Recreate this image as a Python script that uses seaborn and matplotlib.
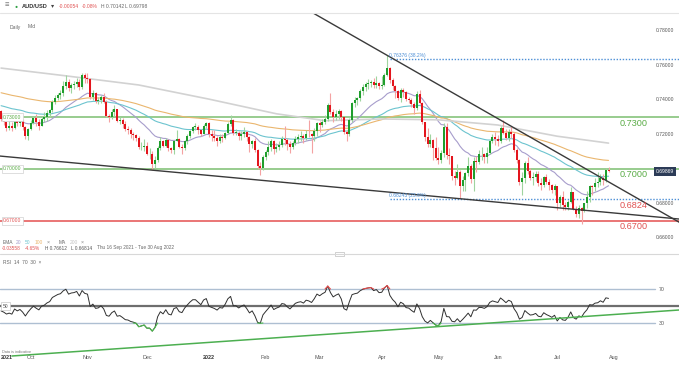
import numpy as np
import pandas as pd
import matplotlib
matplotlib.use("Agg")
import matplotlib.pyplot as plt
import matplotlib.transforms as mtrans
from matplotlib.lines import Line2D
from matplotlib.patches import Rectangle
import seaborn as sns

W, H = 679, 366

# daily AUD/USD bars (weekdays) Thu 16 Sep 2021 .. Thu 28 Jul 2022
first_day, last_day = "2021-09-16", "2022-07-28"
first_open = 0.7335
closes = [
    0.7290, 0.7270, 0.7240, 0.7250, 0.7235, 0.7290, 0.7265, 0.7280, 0.7245, 0.7190, 0.7230,
    0.7265, 0.7295, 0.7270, 0.7250, 0.7290, 0.7300, 0.7325, 0.7340, 0.7390, 0.7410, 0.7430,
    0.7440, 0.7480, 0.7505, 0.7470, 0.7485, 0.7490, 0.7505, 0.7475, 0.7545, 0.7525,
    0.7520, 0.7415, 0.7440, 0.7395, 0.7400, 0.7420, 0.7390, 0.7310, 0.7300, 0.7330, 0.7345,
    0.7280, 0.7285, 0.7260, 0.7230, 0.7225, 0.7205, 0.7195, 0.7180, 0.7125, 0.7130, 0.7135,
    0.7085, 0.7085, 0.7030, 0.7050, 0.7120, 0.7160, 0.7135, 0.7170, 0.7120, 0.7110, 0.7165,
    0.7175, 0.7130, 0.7120, 0.7160, 0.7190, 0.7220, 0.7245, 0.7245, 0.7225, 0.7205, 0.7250, 0.7265,
    0.7200, 0.7190, 0.7180, 0.7165, 0.7185, 0.7180, 0.7210, 0.7260, 0.7285, 0.7210, 0.7210,
    0.7190, 0.7205, 0.7215, 0.7185, 0.7145, 0.7160, 0.7110, 0.7020, 0.7005, 0.7070,
    0.7100, 0.7130, 0.7165, 0.7115, 0.7130, 0.7140, 0.7175, 0.7170, 0.7145, 0.7125,
    0.7150, 0.7175, 0.7185, 0.7190, 0.7180, 0.7205, 0.7200, 0.7190, 0.7220, 0.7265,
    0.7255, 0.7275, 0.7290, 0.7370, 0.7330, 0.7300, 0.7320, 0.7335, 0.7300, 0.7215, 0.7200,
    0.7285, 0.7385, 0.7400, 0.7410, 0.7450, 0.7475, 0.7490, 0.7500, 0.7505, 0.7485, 0.7500, 0.7480,
    0.7485, 0.7545, 0.7585, 0.7515, 0.7480, 0.7455, 0.7410, 0.7460, 0.7445, 0.7405, 0.7400,
    0.7375, 0.7355, 0.7435, 0.7385, 0.7270, 0.7185, 0.7145, 0.7170, 0.7120, 0.7065,
    0.7050, 0.7090, 0.7245, 0.7080, 0.7075, 0.6960, 0.6945, 0.6985, 0.6900, 0.6935, 0.6975,
    0.7020, 0.6940, 0.7045, 0.7040, 0.7085, 0.7085, 0.7070, 0.7095, 0.7160, 0.7185, 0.7175,
    0.7165, 0.7235, 0.7210, 0.7180, 0.7215, 0.7200, 0.7110, 0.7050, 0.6925, 0.6945, 0.7035,
    0.6990, 0.6950, 0.6955, 0.6970, 0.6920, 0.6910, 0.6955, 0.6925, 0.6905, 0.6880, 0.6900,
    0.6800, 0.6835, 0.6790, 0.6780, 0.6810, 0.6865, 0.6770, 0.6740, 0.6775, 0.6755,
    0.6800, 0.6835, 0.6900, 0.6895, 0.6920, 0.6925, 0.6950, 0.6935, 0.6992, 0.6987,
]
highs = [
    0.7340, 0.7300, 0.7275, 0.7285, 0.7270, 0.7310, 0.7315, 0.7300, 0.7290, 0.7250, 0.7240,
    0.7285, 0.7310, 0.7320, 0.7290, 0.7310, 0.7330, 0.7340, 0.7350, 0.7400, 0.7430, 0.7440,
    0.7460, 0.7510, 0.7545, 0.7520, 0.7500, 0.7510, 0.7530, 0.7520, 0.7555, 0.7555,
    0.7555, 0.7530, 0.7460, 0.7445, 0.7420, 0.7430, 0.7440, 0.7400, 0.7320, 0.7345, 0.7370,
    0.7340, 0.7300, 0.7295, 0.7280, 0.7250, 0.7235, 0.7215, 0.7200, 0.7190, 0.7155, 0.7175,
    0.7155, 0.7120, 0.7105, 0.7075, 0.7135, 0.7185, 0.7170, 0.7180, 0.7175, 0.7130, 0.7170,
    0.7225, 0.7180, 0.7145, 0.7170, 0.7200, 0.7225, 0.7250, 0.7265, 0.7255, 0.7230, 0.7260, 0.7275,
    0.7275, 0.7225, 0.7225, 0.7190, 0.7200, 0.7200, 0.7215, 0.7275, 0.7315, 0.7290, 0.7230,
    0.7220, 0.7220, 0.7245, 0.7220, 0.7190, 0.7170, 0.7180, 0.7115, 0.7040, 0.7080,
    0.7110, 0.7160, 0.7175, 0.7170, 0.7150, 0.7160, 0.7190, 0.7250, 0.7180, 0.7160,
    0.7160, 0.7190, 0.7200, 0.7220, 0.7200, 0.7225, 0.7285, 0.7210, 0.7235, 0.7275,
    0.7280, 0.7290, 0.7315, 0.7380, 0.7440, 0.7345, 0.7340, 0.7345, 0.7340, 0.7300, 0.7225,
    0.7295, 0.7390, 0.7420, 0.7420, 0.7465, 0.7490, 0.7505, 0.7520, 0.7515, 0.7530, 0.7540, 0.7505,
    0.7540, 0.7555, 0.7661, 0.7590, 0.7525, 0.7485, 0.7460, 0.7470, 0.7470, 0.7455, 0.7420,
    0.7410, 0.7390, 0.7455, 0.7460, 0.7390, 0.7275, 0.7240, 0.7200, 0.7175, 0.7185,
    0.7125, 0.7110, 0.7265, 0.7265, 0.7120, 0.7070, 0.6990, 0.7030, 0.6995, 0.6960, 0.6985,
    0.7070, 0.7030, 0.7070, 0.7075, 0.7110, 0.7125, 0.7095, 0.7130, 0.7170, 0.7200, 0.7215,
    0.7195, 0.7250, 0.7285, 0.7230, 0.7230, 0.7250, 0.7215, 0.7120, 0.7060, 0.6985, 0.7045,
    0.7070, 0.7005, 0.6980, 0.6990, 0.6990, 0.6945, 0.6960, 0.6970, 0.6940, 0.6915, 0.6915,
    0.6900, 0.6850, 0.6875, 0.6810, 0.6820, 0.6895, 0.6860, 0.6785, 0.6790, 0.6780,
    0.6805, 0.6870, 0.6910, 0.6910, 0.6945, 0.6985, 0.6970, 0.6970, 0.7005, 0.7014,
]
lows = [
    0.7280, 0.7255, 0.7220, 0.7225, 0.7220, 0.7230, 0.7250, 0.7250, 0.7225, 0.7175, 0.7170,
    0.7225, 0.7260, 0.7250, 0.7225, 0.7250, 0.7270, 0.7280, 0.7300, 0.7330, 0.7375, 0.7400,
    0.7405, 0.7425, 0.7465, 0.7450, 0.7440, 0.7465, 0.7475, 0.7460, 0.7465, 0.7500,
    0.7500, 0.7405, 0.7400, 0.7380, 0.7375, 0.7385, 0.7380, 0.7300, 0.7275, 0.7290, 0.7310,
    0.7270, 0.7260, 0.7240, 0.7220, 0.7200, 0.7180, 0.7170, 0.7165, 0.7115, 0.7110, 0.7105,
    0.7080, 0.7060, 0.6995, 0.7005, 0.7040, 0.7110, 0.7125, 0.7125, 0.7105, 0.7090, 0.7085,
    0.7160, 0.7120, 0.7085, 0.7110, 0.7145, 0.7180, 0.7210, 0.7225, 0.7200, 0.7190, 0.7200, 0.7240,
    0.7185, 0.7165, 0.7160, 0.7135, 0.7150, 0.7155, 0.7175, 0.7200, 0.7250, 0.7195, 0.7195,
    0.7170, 0.7170, 0.7185, 0.7165, 0.7100, 0.7120, 0.7100, 0.7000, 0.6965, 0.6995,
    0.7050, 0.7080, 0.7105, 0.7085, 0.7100, 0.7110, 0.7130, 0.7140, 0.7110, 0.7090,
    0.7115, 0.7140, 0.7150, 0.7160, 0.7150, 0.7170, 0.7185, 0.7095, 0.7160, 0.7190,
    0.7215, 0.7245, 0.7260, 0.7280, 0.7320, 0.7275, 0.7285, 0.7290, 0.7280, 0.7200, 0.7165,
    0.7190, 0.7270, 0.7360, 0.7370, 0.7395, 0.7430, 0.7450, 0.7465, 0.7475, 0.7470, 0.7470, 0.7465,
    0.7465, 0.7480, 0.7540, 0.7500, 0.7460, 0.7410, 0.7400, 0.7390, 0.7420, 0.7395, 0.7385,
    0.7360, 0.7320, 0.7340, 0.7375, 0.7260, 0.7165, 0.7130, 0.7130, 0.7055, 0.7050,
    0.7030, 0.7035, 0.7070, 0.7060, 0.7030, 0.6935, 0.6905, 0.6940, 0.6830, 0.6870, 0.6870,
    0.6960, 0.6920, 0.6870, 0.6985, 0.7030, 0.7050, 0.7035, 0.7035, 0.7085, 0.7150, 0.7140,
    0.7135, 0.7150, 0.7200, 0.7170, 0.7160, 0.7180, 0.7100, 0.7035, 0.6910, 0.6850, 0.6920,
    0.6970, 0.6935, 0.6910, 0.6930, 0.6900, 0.6880, 0.6895, 0.6915, 0.6880, 0.6860, 0.6850,
    0.6765, 0.6780, 0.6760, 0.6760, 0.6760, 0.6800, 0.6760, 0.6720, 0.6715, 0.6681,
    0.6750, 0.6775, 0.6810, 0.6850, 0.6870, 0.6895, 0.6905, 0.6905, 0.6925, 0.6980,
]

# moving averages (EMA seeded with the values at the left edge, MA200)
ema_periods = [20, 50, 100]
ema_seeds = [0.7290, 0.7370, 0.7445]
ema_colors = ["#a79dcc", "#6cc4cf", "#eab66e"]
ma200_dates = ["2021-09-16", "2021-10-20", "2021-11-26", "2022-01-03", "2022-02-07", "2022-03-03",
               "2022-04-01", "2022-05-02", "2022-06-01", "2022-07-01", "2022-07-28"]
ma200_values = [0.7585, 0.7540, 0.7487, 0.7405, 0.7320, 0.7280, 0.7290, 0.7285, 0.7255, 0.7190, 0.7150]

levels = [0.7300, 0.7000, 0.6824, 0.6700]
level_labels = ["0.7300", "0.7000", "0.6824", "0.6700"]
level_colors = ["#5aac46", "#5aac46", "#e05252", "#e05252"]
box_levels = [0.73, 0.70, 0.67]
box_labels = ["0.73000", "0.70000", "0.67000"]
fib_levels = [0.76376, 0.68243]
fib_labels = ["0.76376 (38.2%)", "0.68243 (23.6%)"]
fib_start = "2022-04-06"
price_ticks = [0.78, 0.76, 0.74, 0.72, 0.68, 0.66]
last_price = 0.69869

upper_trend = ([110, 252], [0.7954, 0.6684])
lower_trend = ([-0.4, 251.1], [0.7075, 0.6710])
rsi_trend = ([4, 251.1], [-8.8, 45.3])
rsi_seed = (0.0021, 0.0023)

month_dates = ["2021-09-20", "2021-10-01", "2021-11-01", "2021-12-01", "2022-01-03", "2022-02-01",
               "2022-03-01", "2022-04-01", "2022-05-02", "2022-06-01", "2022-07-01", "2022-08-01"]
month_labels = ["2021", "Oct", "Nov", "Dec", "2022", "Feb", "Mar", "Apr", "May", "Jun", "Jul", "Aug"]


def bar_of(d):
    return len(pd.bdate_range(first_day, d)) - 1


def fx(px):
    return px / W


def fy(py):
    return 1 - py / H


sns.set_theme(style="white")
plt.rcParams["font.family"] = ["Liberation Sans", "DejaVu Sans"]

n = len(closes)
idx = np.arange(n)
c = np.array(closes)
o = np.r_[first_open, c[:-1]]
hi = np.maximum(np.array(highs), np.maximum(o, c))
lo = np.minimum(np.array(lows), np.minimum(o, c))
up = c >= o

fig = plt.figure(figsize=(W / 100, H / 100), dpi=100)
fig.patch.set_facecolor("white")

ax = fig.add_axes([0, fy(252), 1, (252 - 13) / H])
ax.set_xlim(-0.4, 251.1)
ax.set_ylim(0.65188, 0.79043)
ax.axis("off")

# levels
ax.axhline(0.73, color="#7cbf70", lw=1.1, zorder=1)
ax.axhline(0.70, color="#7cbf70", lw=1.1, zorder=1)
ax.axhline(0.67, color="#e44f4f", lw=1.1, zorder=1)
x_fib = bar_of(fib_start)
for lv in fib_levels:
    ax.plot([x_fib, 251.1], [lv, lv], color="#4d8fd6", lw=1.0, ls=(0, (1, 1.2)), zorder=1)

# moving averages
for p, seed, col in zip(ema_periods, ema_seeds, ema_colors):
    ema = pd.Series(np.r_[seed, c]).ewm(span=p, adjust=False).mean().values[1:]
    sns.lineplot(x=idx, y=ema, ax=ax, color=col, lw=0.8, legend=False, zorder=2)
sns.lineplot(x=[bar_of(d) for d in ma200_dates], y=ma200_values, ax=ax, color="#d2d2d2",
             lw=1.2, legend=False, zorder=2)

# candles
green, red = "#1f9e2c", "#e3151d"
ax.vlines(idx[up], lo[up], hi[up], color="#9fd49f", lw=0.8, zorder=3)
ax.vlines(idx[~up], lo[~up], hi[~up], color="#f4a2a2", lw=0.8, zorder=3)
body = c - o
body = np.where(np.abs(body) < 0.0004, np.where(up, 0.0004, -0.0004), body)
ax.bar(idx, body, bottom=o, width=0.75, color=np.where(up, green, red), lw=0, zorder=4)

# trendlines
ax.plot(*upper_trend, color="#3a3a3a", lw=1.0, zorder=5)
ax.plot(*lower_trend, color="#3a3a3a", lw=1.0, zorder=5)

ytr = ax.get_yaxis_transform()
for lv, lab, col in zip(levels, level_labels, level_colors):
    tr = mtrans.offset_copy(ytr, fig=fig, y=-1.5, units="dots")
    ax.text(fx(620), lv, lab, transform=tr, ha="left", va="top", fontsize=6.6, color=col, zorder=6)
for lv, lab, col in zip(box_levels, box_labels, ["#5aac46", "#5aac46", "#e05252"]):
    ax.text(fx(3), lv, lab, transform=ytr, ha="left", va="center", fontsize=3.6, color=col,
            bbox=dict(boxstyle="square,pad=0.3", fc="white", ec="#d0d0d0", lw=0.5), zorder=6)
for lv, lab in zip(fib_levels, fib_labels):
    ax.text(x_fib - 0.5, lv + 0.0007, lab, ha="left", va="bottom", fontsize=3.6,
            color="#4d8fd6", zorder=6)
for t in price_ticks:
    ax.text(fx(656), t, f"{t:.5f}", transform=ytr, ha="left", va="center", fontsize=3.6,
            color="#555555", zorder=6)
ax.text(fx(656), last_price, f"{last_price:.5f}", transform=ytr, ha="left", va="center",
        fontsize=3.6, color="white", zorder=7,
        bbox=dict(boxstyle="square,pad=0.35", fc="#2c3b57", ec="none"))

# RSI panel
rax = fig.add_axes([0, fy(352), 1, (352 - 255) / H])
rax.set_xlim(-0.4, 251.1)
rax.set_ylim(-4.1, 110)
for s in rax.spines.values():
    s.set_visible(False)
rax.set_yticks([])

delta = np.diff(np.r_[first_open, c])
ag, al = rsi_seed
rsi = []
for d in delta:
    ag = (ag * 13 + max(d, 0)) / 14
    al = (al * 13 + max(-d, 0)) / 14
    rsi.append(100 - 100 / (1 + ag / al))
rsi = np.array(rsi)

rax.axhline(70, xmax=fx(655), color="#aebfd2", lw=1.0, zorder=1)
rax.axhline(30, xmax=fx(655), color="#aebfd2", lw=1.0, zorder=1)
rax.axhline(50, color="#6e6e6e", lw=1.6, zorder=1)
sns.lineplot(x=idx, y=rsi, ax=rax, color="#2f2f2f", lw=0.7, legend=False, zorder=3)
hi_m = rsi > 70
hi_m = hi_m | np.roll(hi_m, 1) | np.roll(hi_m, -1)
lo_m = rsi < 30
lo_m = lo_m | np.roll(lo_m, 1) | np.roll(lo_m, -1)
rax.plot(idx, np.where(hi_m, np.maximum(rsi, 70), np.nan), color="#e84a4a", lw=0.8, zorder=4)
rax.plot(idx, np.where(lo_m, np.minimum(rsi, 30), np.nan), color="#4cbb4c", lw=0.8, zorder=4)
rax.plot(*rsi_trend, color="#4caf50", lw=1.1, zorder=5, clip_on=False)
rax.text(fx(659), 70, "70", transform=rax.get_yaxis_transform(), ha="left", va="center",
         fontsize=3.8, color="#555555")
rax.text(fx(659), 30, "30", transform=rax.get_yaxis_transform(), ha="left", va="center",
         fontsize=3.8, color="#555555")
rax.text(fx(3), 50, "50", transform=rax.get_yaxis_transform(), ha="left", va="center",
         fontsize=3.6, color="#555555",
         bbox=dict(boxstyle="square,pad=0.35", fc="white", ec="#c8c8c8", lw=0.5))

rax.set_xticks([bar_of(d) for d in month_dates])
rax.set_xticklabels(month_labels)
rax.tick_params(axis="x", length=0, pad=2.5, labelsize=3.9, labelcolor="#555555")
for lab in rax.get_xticklabels():
    if lab.get_text() in ("2021", "2022"):
        lab.set_fontweight("bold")
        lab.set_color("#333333")

# header, legends, separators
fig.add_artist(Line2D([0, 1], [fy(13), fy(13)], color="#e4e4e4", lw=0.8))
fig.add_artist(Line2D([0, 1], [fy(254), fy(254)], color="#d8d8d8", lw=0.8))
fig.add_artist(Rectangle((fx(335), fy(256)), fx(9), 4 / H, fc="white", ec="#bdbdbd", lw=0.5))


def ftxt(px, py, s, col="#555555", size=3.6, **kw):
    fig.text(fx(px), fy(py), s, color=col, fontsize=size, ha="left", va="center", **kw)


ftxt(5, 6, "≡", "#777777", 5.5)
ftxt(15, 6, "●", "#2ea043", 3.6)
ftxt(22, 6, "AUD/USD", "#333333", 4.1, fontweight="bold")
ftxt(51, 6, "▾", "#444444", 4.5)
ftxt(59, 6, "-0.00054", "#e05252")
ftxt(82, 6, "-0.08%", "#e05252")
ftxt(101, 6, "H 0.70142", "#666666")
ftxt(125, 6, "L 0.69798", "#666666")
ftxt(10, 27, "Daily", "#666666")
ftxt(28, 27, "Mid", "#666666")

ftxt(3, 242, "EMA", "#666666", 3.5)
ftxt(16, 242, "20", ema_colors[0], 3.5)
ftxt(25, 242, "50", ema_colors[1], 3.5)
ftxt(35, 242, "100", ema_colors[2], 3.5)
ftxt(47, 242, "×", "#888888", 3.8)
ftxt(59, 242, "MA", "#666666", 3.5)
ftxt(70, 242, "200", "#c4c4c4", 3.5)
ftxt(81, 242, "×", "#888888", 3.8)
ftxt(2, 248, "-0.03558", "#e05252", 3.4)
ftxt(25, 248, "-4.65%", "#e05252", 3.4)
ftxt(45, 248, "H 0.76612", "#555555", 3.4)
ftxt(71, 248, "L 0.66814", "#555555", 3.4)
ftxt(97, 248, "Thu 16 Sep 2021 - Tue 30 Aug 2022", "#666666", 3.4)
ftxt(3, 262, "RSI  14  70  30  ×", "#666666", 3.5)
ftxt(2, 352, "Data is indicative", "#777777", 2.8)

fig.savefig("out.png", dpi=100, facecolor="white")
